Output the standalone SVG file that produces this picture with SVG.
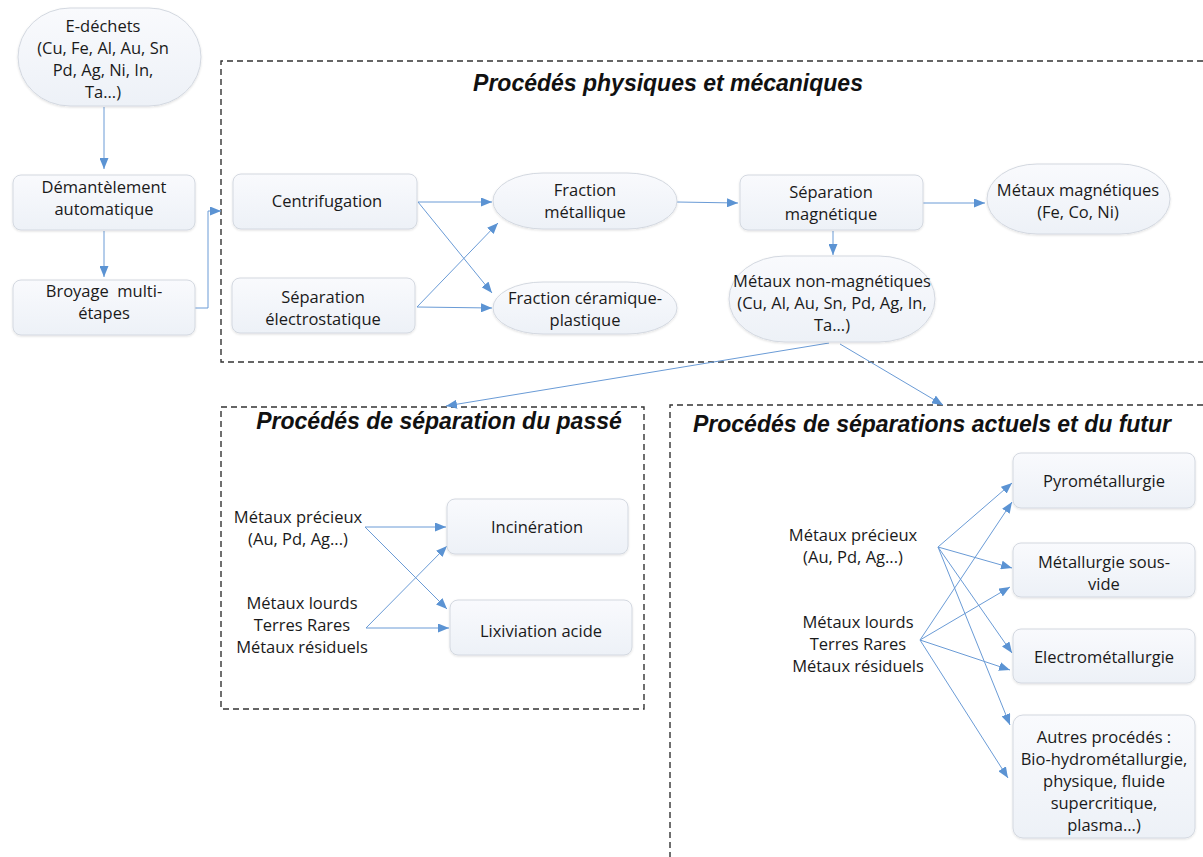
<svg xmlns="http://www.w3.org/2000/svg" width="1203" height="857" viewBox="0 0 1203 857">
<defs>
<linearGradient id="g" x1="0" y1="0" x2="0" y2="1">
<stop offset="0" stop-color="#f9fafd"/>
<stop offset="1" stop-color="#edf1f7"/>
</linearGradient>
<filter id="sh" x="-10%" y="-10%" width="120%" height="130%">
<feDropShadow dx="0" dy="1" stdDeviation="1.2" flood-color="#000" flood-opacity="0.12"/>
</filter>
<marker id="ah" markerUnits="userSpaceOnUse" markerWidth="11" markerHeight="9" refX="11" refY="4.5" orient="auto">
<path d="M0,0 L11,4.5 L0,9 z" fill="#5b93d3"/>
</marker>
</defs>
<style>
.n{fill:url(#g);stroke:#d3d8e0;stroke-width:1;filter:url(#sh)}
.t{font-family:"Open Sans","Noto Sans",sans-serif;font-size:16.5px;fill:#1a1a1a;text-anchor:middle}
.h{font-family:"Liberation Sans",Arial,sans-serif;font-size:23px;font-weight:bold;font-style:italic;fill:#111;text-anchor:middle}
.d{fill:none;stroke:#333;stroke-width:1.4;stroke-dasharray:6 4}
.c{fill:none;stroke:#6a9bd6;stroke-width:1;marker-end:url(#ah)}
</style>
<rect width="1203" height="857" fill="#fff"/>

<g id="groups">
<path class="d" d="M1203,61 H221 V362 H1203"/>
<rect class="d" x="221" y="407" width="423" height="302"/>
<path class="d" d="M1203,405 H670 V857"/>
<text class="h" x="668" y="91">Procédés physiques et mécaniques</text>
<text class="h" x="439" y="429">Procédés de séparation du passé</text>
<text class="h" x="932" y="432">Procédés de séparations actuels et du futur</text>
</g>

<g id="connectors">
<path class="c" d="M104,107 V169"/>
<path class="c" d="M104,231 V277"/>
<path class="c" d="M195,308 H208 V211 H221"/>
<path class="c" d="M418,202 H492"/>
<path class="c" d="M418,202 L492,293"/>
<path class="c" d="M417,307 L498,223"/>
<path class="c" d="M417,307 L492,308"/>
<path class="c" d="M677,202 L738,203"/>
<path class="c" d="M923,203 H985"/>
<path class="c" d="M833,231 V255"/>
<path class="c" d="M829,343 L446,406"/>
<path class="c" d="M840,344 L943,405"/>
<path class="c" d="M365,527 H446"/>
<path class="c" d="M365,527 L447,609"/>
<path class="c" d="M366,628 L447,546"/>
<path class="c" d="M366,628 H449"/>
<path class="c" d="M938,547 L1012,483"/>
<path class="c" d="M938,547 L1012,568"/>
<path class="c" d="M938,547 L1012,653"/>
<path class="c" d="M938,547 L1010,725"/>
<path class="c" d="M920,640 L1012,502"/>
<path class="c" d="M920,640 L1010,587"/>
<path class="c" d="M920,640 L1010,670"/>
<path class="c" d="M920,640 L1008,778"/>
</g>

<g id="n-edechets">
<rect class="n" x="18" y="8" width="183" height="98" rx="52" ry="49"/>
<text class="t" x="103" y="32">E-déchets</text>
<text class="t" x="103" y="54">(Cu, Fe, Al, Au, Sn</text>
<text class="t" x="103" y="76">Pd, Ag, Ni, In,</text>
<text class="t" x="103" y="98">Ta...)</text>
</g>
<g id="n-demantelement">
<rect class="n" x="13" y="175" width="182" height="55" rx="8"/>
<text class="t" x="104" y="193">Démantèlement</text>
<text class="t" x="104" y="215">automatique</text>
</g>
<g id="n-broyage">
<rect class="n" x="13" y="280" width="182" height="55" rx="8"/>
<text class="t" x="104" y="297" xml:space="preserve">Broyage  multi-</text>
<text class="t" x="104" y="319">étapes</text>
</g>
<g id="n-centrifugation">
<rect class="n" x="233" y="174" width="184" height="55" rx="8"/>
<text class="t" x="327" y="207">Centrifugation</text>
</g>
<g id="n-electrostatique">
<rect class="n" x="232" y="278" width="183" height="55" rx="8"/>
<text class="t" x="323" y="303">Séparation</text>
<text class="t" x="323" y="325">électrostatique</text>
</g>
<g id="n-fraction-metallique">
<rect class="n" x="493" y="173" width="184" height="56" rx="50" ry="28"/>
<text class="t" x="585" y="196">Fraction</text>
<text class="t" x="585" y="218">métallique</text>
</g>
<g id="n-fraction-ceramique">
<rect class="n" x="493" y="282" width="184" height="52" rx="50" ry="26"/>
<text class="t" x="585" y="304">Fraction céramique-</text>
<text class="t" x="585" y="326">plastique</text>
</g>
<g id="n-separation-magnetique">
<rect class="n" x="740" y="175" width="183" height="55" rx="8"/>
<text class="t" x="831" y="198">Séparation</text>
<text class="t" x="831" y="220">magnétique</text>
</g>
<g id="n-metaux-magnetiques">
<rect class="n" x="987" y="164" width="183" height="70" rx="50" ry="35"/>
<text class="t" x="1078" y="196">Métaux magnétiques</text>
<text class="t" x="1078" y="218">(Fe, Co, Ni)</text>
</g>
<g id="n-non-magnetiques">
<rect class="n" x="729" y="256" width="206" height="86" rx="56" ry="43"/>
<text class="t" x="832" y="287">Métaux non-magnétiques</text>
<text class="t" x="832" y="309">(Cu, Al, Au, Sn, Pd, Ag, In,</text>
<text class="t" x="832" y="331">Ta...)</text>
</g>

<g id="n-passe-precieux">
<text class="t" x="298" y="523">Métaux précieux</text>
<text class="t" x="298" y="545">(Au, Pd, Ag...)</text>
</g>
<g id="n-passe-lourds">
<text class="t" x="302" y="609">Métaux lourds</text>
<text class="t" x="302" y="631">Terres Rares</text>
<text class="t" x="302" y="653">Métaux résiduels</text>
</g>
<g id="n-incineration">
<rect class="n" x="447" y="499" width="181" height="55" rx="8"/>
<text class="t" x="537" y="533">Incinération</text>
</g>
<g id="n-lixiviation">
<rect class="n" x="450" y="600" width="182" height="55" rx="8"/>
<text class="t" x="541" y="637">Lixiviation acide</text>
</g>

<g id="n-futur-precieux">
<text class="t" x="853" y="541">Métaux précieux</text>
<text class="t" x="853" y="563">(Au, Pd, Ag...)</text>
</g>
<g id="n-futur-lourds">
<text class="t" x="858" y="628">Métaux lourds</text>
<text class="t" x="858" y="650">Terres Rares</text>
<text class="t" x="858" y="672">Métaux résiduels</text>
</g>
<g id="n-pyro">
<rect class="n" x="1013" y="453" width="182" height="55" rx="8"/>
<text class="t" x="1104" y="487">Pyrométallurgie</text>
</g>
<g id="n-sous-vide">
<rect class="n" x="1013" y="543" width="182" height="54" rx="8"/>
<text class="t" x="1104" y="568">Métallurgie sous-</text>
<text class="t" x="1104" y="590">vide</text>
</g>
<g id="n-electro">
<rect class="n" x="1013" y="629" width="182" height="54" rx="8"/>
<text class="t" x="1104" y="663">Electrométallurgie</text>
</g>
<g id="n-autres">
<rect class="n" x="1013" y="715" width="182" height="123" rx="10"/>
<text class="t" x="1104" y="743">Autres procédés :</text>
<text class="t" x="1104" y="765">Bio-hydrométallurgie,</text>
<text class="t" x="1104" y="787">physique, fluide</text>
<text class="t" x="1104" y="809">supercritique,</text>
<text class="t" x="1104" y="831">plasma...)</text>
</g>
</svg>
